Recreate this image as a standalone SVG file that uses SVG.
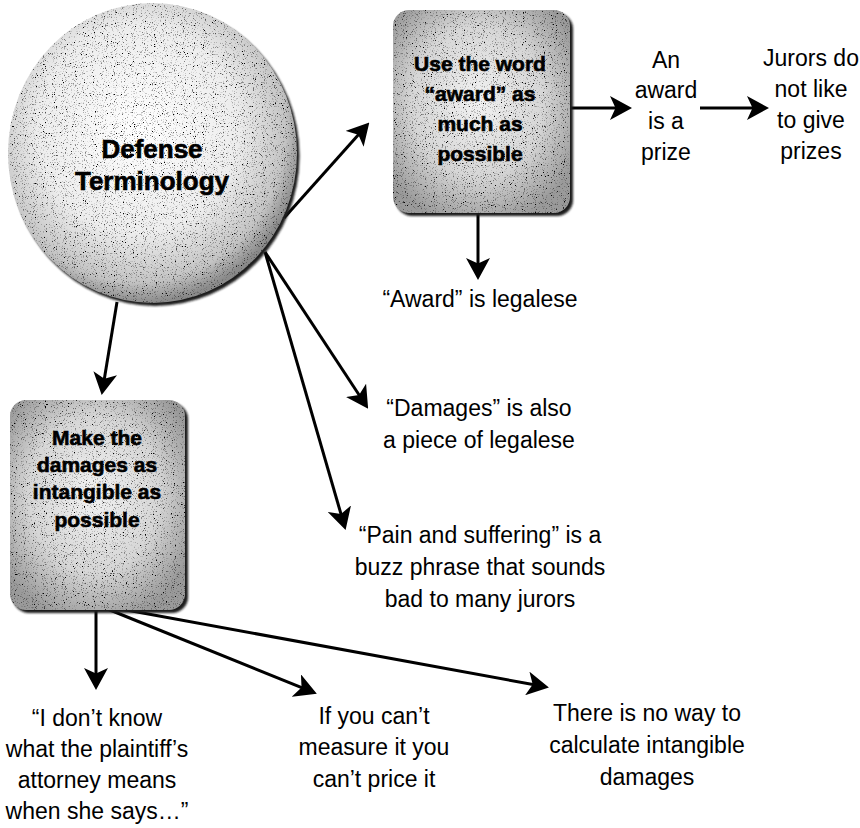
<svg xmlns="http://www.w3.org/2000/svg" width="860" height="828" viewBox="0 0 860 828">
<style>
.b{font-family:"Liberation Sans",Arial,sans-serif;font-weight:bold;font-size:21px;text-anchor:middle;fill:#000;stroke:#000;stroke-width:0.6}
.h{font-size:26px}
.t{font-family:"Liberation Sans",Arial,sans-serif;font-size:23px;text-anchor:middle;fill:#000}
.c{fill:none;stroke:#000;stroke-width:3;marker-end:url(#ah)}
.sh{fill:#1a1a1a;filter:url(#blur)}
</style>
<defs>
<marker id="ah" markerUnits="userSpaceOnUse" viewBox="0 0 22 24" markerWidth="22" markerHeight="24" refX="17" refY="12" orient="auto">
<path d="M22,12 L0,0 L5.5,12 L0,24 Z" fill="#000"/>
</marker>
<radialGradient id="gc" cx="45%" cy="42%" r="58%">
<stop offset="0" stop-color="#ffffff"/>
<stop offset="0.6" stop-color="#ededed"/>
<stop offset="0.88" stop-color="#c4c4c4"/>
<stop offset="1" stop-color="#8a8a8a"/>
</radialGradient>
<radialGradient id="gb" cx="48%" cy="45%" r="62%">
<stop offset="0" stop-color="#f2f2f2"/>
<stop offset="0.6" stop-color="#d6d6d6"/>
<stop offset="1" stop-color="#9a9a9a"/>
</radialGradient>
<filter id="blur" x="-10%" y="-10%" width="120%" height="120%">
<feGaussianBlur stdDeviation="1.2"/>
</filter>
<filter id="grain" x="0" y="0" width="100%" height="100%">
<feTurbulence type="fractalNoise" baseFrequency="0.9" numOctaves="2" seed="4" result="n"/>
<feColorMatrix in="n" type="matrix" values="0 0 0 0 0  0 0 0 0 0  0 0 0 0 0  -5 0 0 0 2.1" result="dots"/>
<feComposite in="dots" in2="SourceGraphic" operator="in" result="d2"/>
<feMerge><feMergeNode in="SourceGraphic"/><feMergeNode in="d2"/></feMerge>
</filter>
</defs>

<g id="connectors">
<path class="c" d="M284,218 L366,126.2"/>
<path class="c" d="M265,252 L365.4,404.5"/>
<path class="c" d="M265,252 L344.2,525.1"/>
<path class="c" d="M117,302 L102.5,390"/>
<path class="c" d="M478,213 L478,275"/>
<path class="c" d="M570,108 L627,108"/>
<path class="c" d="M700,108 L764,108"/>
<path class="c" d="M96,610 L96,685"/>
<path class="c" d="M105,608 L312.2,691.9"/>
<path class="c" d="M110,607 L544,686.5"/>
</g>

<g id="defense-terminology">
<ellipse class="sh" cx="155" cy="156" rx="144.5" ry="150"/>
<ellipse cx="152.5" cy="153" rx="144.5" ry="150" fill="url(#gc)" filter="url(#grain)"/>
<text class="b h" x="152" y="158">Defense</text>
<text class="b h" x="152" y="190">Terminology</text>
</g>

<g id="use-award">
<rect class="sh" x="396" y="13" width="177" height="203" rx="16"/>
<rect x="393" y="10" width="177" height="203" rx="16" fill="url(#gb)" filter="url(#grain)"/>
<text class="b" x="480" y="71">Use the word</text>
<text class="b" x="480" y="101">“award” as</text>
<text class="b" x="480" y="131">much as</text>
<text class="b" x="480" y="161">possible</text>
</g>

<g id="award-prize">
<text class="t" x="666" y="68">An</text>
<text class="t" x="666" y="98">award</text>
<text class="t" x="666" y="129">is a</text>
<text class="t" x="666" y="160">prize</text>
</g>

<g id="jurors-prizes">
<text class="t" x="811" y="66">Jurors do</text>
<text class="t" x="811" y="97">not like</text>
<text class="t" x="811" y="128">to give</text>
<text class="t" x="811" y="159">prizes</text>
</g>

<g id="award-legalese">
<text class="t" x="480" y="307">“Award” is legalese</text>
</g>

<g id="damages-legalese">
<text class="t" x="479" y="416">“Damages” is also</text>
<text class="t" x="479" y="448">a piece of legalese</text>
</g>

<g id="pain-suffering">
<text class="t" x="480" y="543">“Pain and suffering” is a</text>
<text class="t" x="480" y="575">buzz phrase that sounds</text>
<text class="t" x="480" y="607">bad to many jurors</text>
</g>

<g id="intangible">
<rect class="sh" x="13" y="403" width="175" height="210" rx="16"/>
<rect x="10" y="400" width="175" height="210" rx="16" fill="url(#gb)" filter="url(#grain)"/>
<text class="b" x="97" y="445">Make the</text>
<text class="b" x="97" y="472">damages as</text>
<text class="b" x="97" y="499">intangible as</text>
<text class="b" x="97" y="527">possible</text>
</g>

<g id="dont-know">
<text class="t" x="97" y="726">“I don’t know</text>
<text class="t" x="97" y="757">what the plaintiff’s</text>
<text class="t" x="97" y="788">attorney means</text>
<text class="t" x="97" y="819">when she says…”</text>
</g>

<g id="cant-measure">
<text class="t" x="374" y="724">If you can’t</text>
<text class="t" x="374" y="755">measure it you</text>
<text class="t" x="374" y="787">can’t price it</text>
</g>

<g id="no-way">
<text class="t" x="647" y="721">There is no way to</text>
<text class="t" x="647" y="753">calculate intangible</text>
<text class="t" x="647" y="785">damages</text>
</g>
</svg>
